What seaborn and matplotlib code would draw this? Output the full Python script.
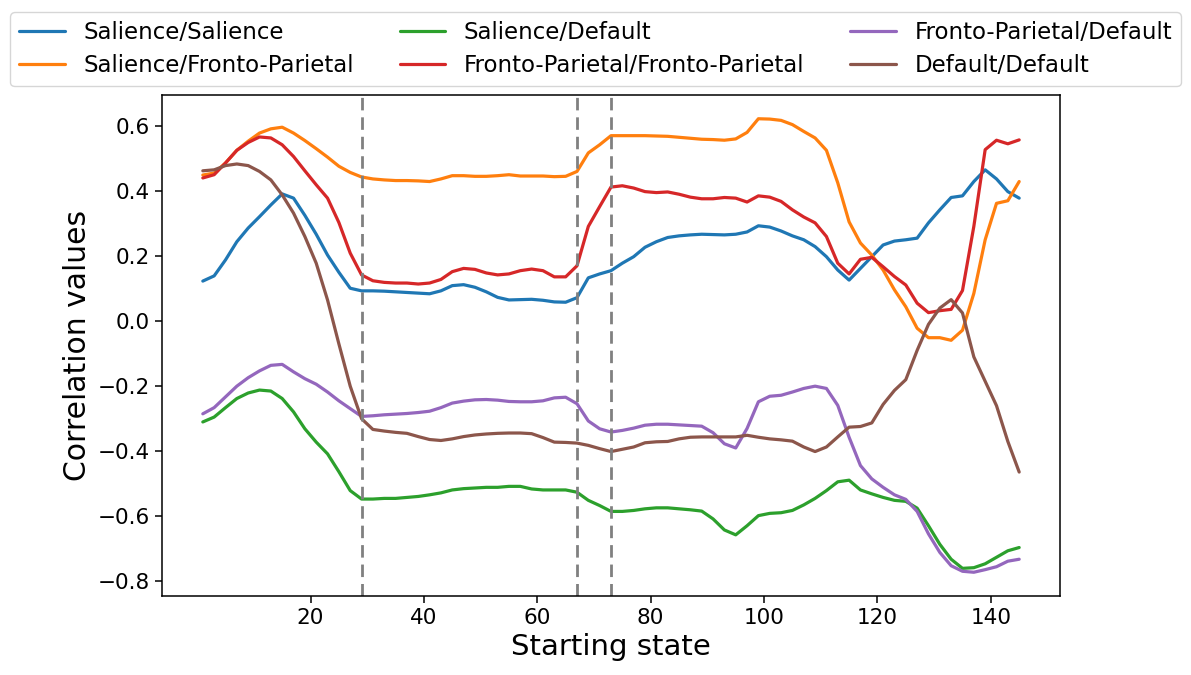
import numpy as np
import pandas as pd
import matplotlib
matplotlib.use("Agg")
import matplotlib.pyplot as plt
import seaborn as sns

# ---------------- data ----------------
starting_state = list(range(1, 146, 2))

salience_salience = [
    0.123, 0.139, 0.188, 0.244, 0.286, 0.321, 0.357, 0.391, 0.378, 0.325,
    0.267, 0.203, 0.150, 0.101, 0.093, 0.093, 0.092, 0.090, 0.088, 0.086,
    0.084, 0.093, 0.109, 0.112, 0.104, 0.090, 0.073, 0.065, 0.066, 0.067,
    0.064, 0.059, 0.058, 0.072, 0.133, 0.145, 0.155, 0.178, 0.198, 0.227,
    0.244, 0.257, 0.262, 0.265, 0.267, 0.266, 0.265, 0.267, 0.274, 0.293,
    0.289, 0.277, 0.262, 0.250, 0.229, 0.198, 0.157, 0.126, 0.162, 0.198,
    0.234, 0.246, 0.250, 0.255, 0.302, 0.342, 0.380, 0.385, 0.429, 0.465,
    0.437, 0.398, 0.378]

salience_fronto = [
    0.449, 0.455, 0.486, 0.525, 0.553, 0.578, 0.591, 0.596, 0.578, 0.555,
    0.530, 0.504, 0.476, 0.457, 0.443, 0.437, 0.434, 0.432, 0.432, 0.431,
    0.429, 0.437, 0.447, 0.447, 0.445, 0.445, 0.447, 0.450, 0.446, 0.446,
    0.446, 0.444, 0.445, 0.460, 0.517, 0.542, 0.570, 0.570, 0.570, 0.570,
    0.569, 0.568, 0.565, 0.562, 0.559, 0.558, 0.556, 0.560, 0.580, 0.622,
    0.621, 0.617, 0.604, 0.583, 0.563, 0.525, 0.425, 0.305, 0.240, 0.203,
    0.157, 0.096, 0.044, -0.022, -0.051, -0.051, -0.059, -0.028, 0.085, 0.250,
    0.362, 0.370, 0.429]

salience_default = [
    -0.310, -0.295, -0.266, -0.238, -0.221, -0.212, -0.215, -0.238, -0.279, -0.331,
    -0.372, -0.408, -0.463, -0.521, -0.547, -0.547, -0.545, -0.545, -0.542, -0.539,
    -0.534, -0.528, -0.519, -0.515, -0.513, -0.511, -0.511, -0.508, -0.508, -0.516,
    -0.519, -0.519, -0.519, -0.526, -0.551, -0.567, -0.585, -0.585, -0.582, -0.577,
    -0.574, -0.574, -0.577, -0.580, -0.584, -0.608, -0.642, -0.657, -0.629, -0.598,
    -0.591, -0.589, -0.582, -0.565, -0.545, -0.521, -0.494, -0.489, -0.519, -0.531,
    -0.542, -0.551, -0.554, -0.575, -0.629, -0.686, -0.732, -0.760, -0.758, -0.746,
    -0.726, -0.706, -0.696]

fronto_fronto = [
    0.440, 0.450, 0.486, 0.525, 0.549, 0.566, 0.563, 0.542, 0.506, 0.462,
    0.419, 0.378, 0.303, 0.209, 0.142, 0.124, 0.119, 0.117, 0.117, 0.114,
    0.117, 0.128, 0.152, 0.162, 0.159, 0.148, 0.142, 0.145, 0.155, 0.160,
    0.155, 0.136, 0.136, 0.170, 0.291, 0.352, 0.412, 0.416, 0.409, 0.398,
    0.395, 0.397, 0.390, 0.381, 0.376, 0.376, 0.380, 0.378, 0.366, 0.385,
    0.381, 0.368, 0.342, 0.320, 0.302, 0.260, 0.178, 0.145, 0.190, 0.196,
    0.167, 0.137, 0.111, 0.055, 0.026, 0.032, 0.036, 0.094, 0.291, 0.527,
    0.556, 0.545, 0.557]

fronto_default = [
    -0.285, -0.266, -0.233, -0.200, -0.174, -0.153, -0.136, -0.133, -0.156, -0.177,
    -0.194, -0.218, -0.245, -0.269, -0.293, -0.291, -0.288, -0.286, -0.284, -0.281,
    -0.277, -0.266, -0.252, -0.246, -0.242, -0.241, -0.243, -0.247, -0.248, -0.248,
    -0.245, -0.236, -0.234, -0.254, -0.307, -0.331, -0.341, -0.336, -0.329, -0.320,
    -0.317, -0.317, -0.319, -0.321, -0.323, -0.343, -0.377, -0.390, -0.330, -0.248,
    -0.231, -0.228, -0.218, -0.207, -0.200, -0.207, -0.259, -0.357, -0.444, -0.485,
    -0.511, -0.534, -0.548, -0.585, -0.654, -0.711, -0.752, -0.769, -0.772, -0.764,
    -0.755, -0.738, -0.732]

default_default = [
    0.462, 0.465, 0.478, 0.483, 0.478, 0.460, 0.434, 0.388, 0.332, 0.260,
    0.178, 0.065, -0.070, -0.200, -0.300, -0.333, -0.338, -0.342, -0.345, -0.355,
    -0.364, -0.367, -0.362, -0.355, -0.350, -0.347, -0.345, -0.344, -0.344, -0.346,
    -0.358, -0.372, -0.373, -0.375, -0.382, -0.392, -0.401, -0.394, -0.387, -0.374,
    -0.371, -0.370, -0.362, -0.357, -0.356, -0.356, -0.356, -0.356, -0.351, -0.357,
    -0.362, -0.365, -0.369, -0.387, -0.401, -0.387, -0.356, -0.326, -0.324, -0.313,
    -0.256, -0.213, -0.180, -0.090, -0.010, 0.040, 0.066, 0.025, -0.110, -0.185,
    -0.260, -0.370, -0.464]

series_names = ["Salience/Salience", "Salience/Fronto-Parietal", "Salience/Default",
                "Fronto-Parietal/Fronto-Parietal", "Fronto-Parietal/Default",
                "Default/Default"]
series_values = [salience_salience, salience_fronto, salience_default,
                 fronto_fronto, fronto_default, default_default]
boundaries = [29, 67, 73]

# ---------------- build long table ----------------
frames = []
for name, vals in zip(series_names, series_values):
    frames.append(pd.DataFrame({"Starting state": starting_state,
                                "Correlation values": vals,
                                "pair": name}))
df = pd.concat(frames, ignore_index=True)

# ---------------- plot ----------------
sns.set_theme(style="ticks")
plt.rcParams["font.family"] = ["DejaVu Sans"]
plt.rcParams.update({"text.color": "black", "axes.labelcolor": "black",
                     "xtick.color": "black", "ytick.color": "black",
                     "axes.edgecolor": "black"})

fig = plt.figure(figsize=(11.91, 6.75), dpi=100)
ax = fig.add_axes([162 / 1191, 1 - 596 / 675, (1060 - 162) / 1191, (596 - 95) / 675])

palette = sns.color_palette("tab10", 6)
sns.lineplot(data=df, x="Starting state", y="Correlation values", hue="pair",
             hue_order=series_names, palette=palette, linewidth=2.3, ax=ax,
             legend=True)

for b in boundaries:
    ax.axvline(b, color="grey", linestyle="--", linewidth=2.0, dashes=(4.5, 2.5))

ax.set_xticks([20, 40, 60, 80, 100, 120, 140])
ax.set_yticks([-0.8, -0.6, -0.4, -0.2, 0.0, 0.2, 0.4, 0.6])
ax.set_ylim(-0.845, 0.695)
ax.tick_params(axis="both", labelsize=15.5, length=5, width=1.1, colors="black")
ax.set_xlabel("Starting state", fontsize=21)
ax.set_ylabel("Correlation values", fontsize=21.5)
for s in ax.spines.values():
    s.set_color("black")
    s.set_linewidth(1.1)

handles, labels = ax.get_legend_handles_labels()
ax.get_legend().remove()
fig.legend(handles, labels, loc="upper center", bbox_to_anchor=(0.5, 0.999),
           ncol=3, fontsize=16.5, frameon=True, handlelength=2.0,
           columnspacing=2.0, labelspacing=0.42)

fig.savefig("out.png", dpi=100)
